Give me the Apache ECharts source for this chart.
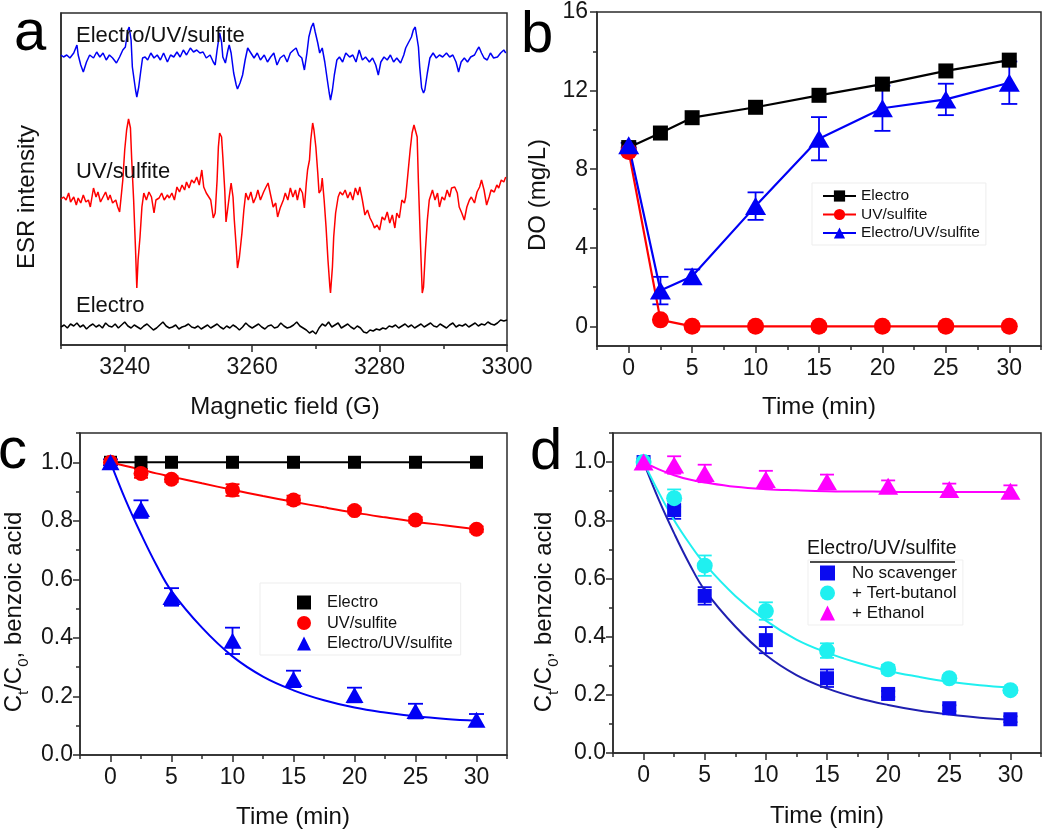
<!DOCTYPE html>
<html><head><meta charset="utf-8">
<script src="https://cdn.jsdelivr.net/npm/echarts@6/dist/echarts.min.js"></script>
<style>html,body{margin:0;padding:0;background:#fff}#c{width:1050px;height:830px}</style>
</head><body><div id="c"></div>
<script>
// ================= Panel a : ESR spectra  [field (G), intensity (a.u.)] =================
const esrBlue = [[3230.0,290],[3230.4,288],[3230.9,290],[3231.4,287],[3232.0,292],[3232.5,300],[3232.7,290],[3233.1,280],[3233.5,273],[3234.0,283],[3234.5,290],[3235.1,287],[3235.6,293],[3236.1,288],[3236.6,292],[3237.1,285],[3237.6,290],[3238.1,287],[3238.7,282],[3239.2,288],[3239.7,295],[3240.1,298],[3240.5,315],[3240.7,318],[3241.0,305],[3241.2,278],[3241.7,255],[3241.9,248],[3242.2,258],[3242.5,273],[3242.8,287],[3243.2,288],[3243.6,285],[3244.1,292],[3244.6,287],[3245.1,290],[3245.6,285],[3246.1,292],[3246.7,283],[3247.2,290],[3247.7,288],[3248.2,293],[3248.7,288],[3249.2,295],[3249.7,290],[3250.3,297],[3250.8,293],[3251.3,295],[3251.8,292],[3252.3,293],[3252.8,287],[3253.4,290],[3253.9,283],[3254.2,280],[3254.5,295],[3254.9,312],[3255.2,303],[3255.4,288],[3255.8,282],[3256.2,295],[3256.4,300],[3256.7,292],[3257.1,272],[3257.5,260],[3257.7,256],[3258.1,262],[3258.5,270],[3258.9,285],[3259.3,297],[3259.8,292],[3260.3,287],[3260.8,292],[3261.3,285],[3261.9,290],[3262.4,283],[3262.9,288],[3263.4,292],[3263.9,280],[3264.4,287],[3265.0,290],[3265.5,283],[3266.0,292],[3266.5,295],[3266.9,297],[3267.3,290],[3267.8,287],[3268.2,275],[3268.6,292],[3268.9,308],[3269.3,318],[3269.6,322],[3269.9,313],[3270.3,302],[3270.6,292],[3271.0,297],[3271.4,283],[3271.8,265],[3272.1,252],[3272.3,245],[3272.6,255],[3272.9,270],[3273.3,285],[3273.7,288],[3274.2,283],[3274.7,292],[3275.3,288],[3275.8,290],[3276.3,283],[3276.8,295],[3277.3,285],[3277.8,288],[3278.4,283],[3278.9,287],[3279.4,280],[3279.8,270],[3280.2,283],[3280.7,288],[3281.2,285],[3281.7,290],[3282.2,283],[3282.7,287],[3283.3,282],[3283.8,290],[3284.1,297],[3284.5,302],[3285.0,308],[3285.3,315],[3285.6,318],[3285.8,310],[3286.1,298],[3286.3,278],[3286.6,257],[3286.9,252],[3287.1,255],[3287.5,272],[3287.9,287],[3288.4,292],[3288.9,287],[3289.4,290],[3289.9,288],[3290.5,292],[3291.0,288],[3291.5,290],[3292.0,283],[3292.4,273],[3292.8,283],[3293.3,287],[3293.8,283],[3294.3,288],[3294.9,290],[3295.3,295],[3295.6,298],[3296.0,292],[3296.4,287],[3296.9,285],[3297.4,292],[3297.9,287],[3298.5,288],[3299.0,292],[3299.5,295],[3299.8,292]];
const esrRed = [[3230.0,146],[3230.4,148],[3230.8,145],[3231.2,152],[3231.5,143],[3232.0,148],[3232.4,140],[3232.7,147],[3233.1,142],[3233.5,150],[3233.9,143],[3234.3,145],[3234.6,138],[3235.1,157],[3235.5,148],[3235.8,153],[3236.2,143],[3236.6,148],[3237.0,153],[3237.4,145],[3237.7,150],[3238.1,142],[3238.6,145],[3238.9,138],[3239.2,133],[3239.5,152],[3239.7,165],[3240.0,195],[3240.3,215],[3240.6,226],[3240.9,217],[3241.1,185],[3241.4,145],[3241.7,95],[3241.9,57],[3242.1,85],[3242.4,108],[3242.7,138],[3243.0,152],[3243.4,145],[3243.8,153],[3244.2,148],[3244.6,132],[3244.9,145],[3245.4,147],[3245.8,152],[3246.2,145],[3246.7,150],[3247.0,147],[3247.4,152],[3247.8,145],[3248.2,158],[3248.6,153],[3249.0,160],[3249.4,155],[3249.7,163],[3250.1,157],[3250.5,165],[3250.9,162],[3251.3,168],[3251.7,160],[3252.1,175],[3252.4,158],[3252.8,152],[3253.2,148],[3253.5,145],[3253.9,127],[3254.2,132],[3254.5,165],[3254.7,198],[3254.9,212],[3255.2,208],[3255.4,188],[3255.7,155],[3255.9,123],[3256.2,125],[3256.4,148],[3256.7,162],[3257.0,148],[3257.2,125],[3257.5,98],[3257.7,77],[3258.0,88],[3258.4,112],[3258.7,135],[3259.0,152],[3259.4,145],[3259.8,153],[3260.2,142],[3260.6,148],[3260.9,155],[3261.3,145],[3261.8,153],[3262.1,157],[3262.5,162],[3262.9,150],[3263.3,138],[3263.7,142],[3264.0,128],[3264.4,137],[3264.9,145],[3265.2,152],[3265.6,145],[3266.0,157],[3266.4,148],[3266.8,155],[3267.1,145],[3267.5,157],[3267.9,152],[3268.2,137],[3268.5,162],[3268.7,175],[3269.0,185],[3269.2,205],[3269.5,222],[3269.7,215],[3270.0,198],[3270.3,172],[3270.5,152],[3270.8,155],[3271.0,167],[3271.3,145],[3271.6,118],[3271.9,85],[3272.2,58],[3272.3,52],[3272.6,78],[3272.8,108],[3273.1,132],[3273.5,148],[3273.8,153],[3274.2,150],[3274.6,155],[3275.0,147],[3275.4,153],[3275.8,145],[3276.2,157],[3276.6,150],[3276.9,158],[3277.3,145],[3277.7,130],[3278.1,135],[3278.5,127],[3278.9,122],[3279.2,117],[3279.6,120],[3280.0,115],[3280.4,128],[3280.8,125],[3281.2,133],[3281.6,122],[3282.0,130],[3282.4,117],[3282.7,132],[3283.1,127],[3283.5,145],[3283.9,142],[3284.1,148],[3284.4,168],[3284.8,195],[3285.1,212],[3285.4,220],[3285.6,221],[3285.9,208],[3286.1,162],[3286.4,105],[3286.7,52],[3286.9,58],[3287.2,95],[3287.5,125],[3287.8,145],[3288.3,155],[3288.7,145],[3289.1,152],[3289.4,138],[3289.8,148],[3290.2,145],[3290.6,155],[3291.0,148],[3291.3,157],[3291.8,158],[3292.2,152],[3292.5,138],[3292.9,132],[3293.3,125],[3293.7,138],[3294.1,145],[3294.4,148],[3294.9,142],[3295.3,153],[3295.7,158],[3296.0,165],[3296.4,155],[3296.8,140],[3297.2,148],[3297.5,155],[3298.0,153],[3298.4,160],[3298.7,157],[3299.1,165],[3299.5,163],[3299.8,168]];
const esrBlack = [[3230,18],[3230.5,20],[3231,17],[3231.5,21],[3232,19],[3232.5,22],[3233,18],[3233.5,20],[3234,16],[3234.5,19],[3235,21],[3235.5,18],[3236,20],[3236.5,17],[3237,22],[3237.5,19],[3238,18],[3238.5,21],[3239,17],[3239.5,20],[3240,23],[3240.5,19],[3241,17],[3241.5,20],[3242,18],[3242.5,16],[3243,19],[3243.5,21],[3244,18],[3244.5,15],[3245,17],[3245.5,20],[3246,23],[3246.5,19],[3247,17],[3247.5,18],[3248,20],[3248.5,16],[3249,18],[3249.5,19],[3250,21],[3250.5,18],[3251,17],[3251.5,19],[3252,16],[3252.5,18],[3253,20],[3253.5,17],[3254,19],[3254.5,21],[3255,18],[3255.5,16],[3256,19],[3256.5,17],[3257,20],[3257.5,18],[3258,15],[3258.5,18],[3259,22],[3259.5,19],[3260,17],[3260.5,19],[3261,21],[3261.5,18],[3262,16],[3262.5,19],[3263,20],[3263.5,17],[3264,18],[3264.5,22],[3265,19],[3265.5,17],[3266,18],[3266.5,20],[3267,23],[3267.5,19],[3268,17],[3268.5,15],[3269,12],[3269.5,14],[3270,11],[3270.5,17],[3271,21],[3271.5,19],[3272,23],[3272.5,18],[3273,20],[3273.5,22],[3274,17],[3274.5,19],[3275,21],[3275.5,18],[3276,16],[3276.5,19],[3277,17],[3277.5,13],[3278,12],[3278.5,15],[3279,14],[3279.5,16],[3280,15],[3280.5,17],[3281,16],[3281.5,19],[3282,18],[3282.5,20],[3283,17],[3283.5,19],[3284,21],[3284.5,18],[3285,20],[3285.5,17],[3286,19],[3286.5,21],[3287,18],[3287.5,20],[3288,22],[3288.5,19],[3289,18],[3289.5,21],[3290,19],[3290.5,17],[3291,20],[3291.5,22],[3292,18],[3292.5,20],[3293,19],[3293.5,21],[3294,18],[3294.5,20],[3295,22],[3295.5,19],[3296,21],[3296.5,20],[3297,23],[3297.5,21],[3298,20],[3298.5,22],[3299,25],[3299.5,24],[3300,25]];
const esrNames = ['Electro/UV/sulfite', 'UV/sulfite', 'Electro'];
const fieldTicks = [3240, 3260, 3280, 3300];
const fieldMinorTicks = [3230, 3250, 3270, 3290];

// ================= Panel b : dissolved oxygen =================
const timeB = [0, 2.5, 5, 10, 15, 20, 25, 30];
const doElectro = [9.1, 9.84, 10.62, 11.15, 11.76, 12.33, 13.0, 13.55];
const doUV = [8.9, 0.33, 0, 0, 0, 0, 0, 0];
const doCombined = [9.22, 1.82, 2.55, 6.12, 9.55, 11.1, 11.55, 12.4];
const doCombinedErr = [0.12, 0.7, 0.35, 0.7, 1.1, 1.15, 0.8, 1.08];
const doTicks = [0, 4, 8, 12, 16];
const doMinorTicks = [2, 6, 10, 14];
const timeTicks = [0, 5, 10, 15, 20, 25, 30];
const timeMinorTicks = [-2.5, 2.5, 7.5, 12.5, 17.5, 22.5, 27.5, 32.5];

// ================= Panel c : benzoic acid decay =================
const timeC = [0, 2.5, 5, 10, 15, 20, 25, 30];
const bzElectro = [1.0, 1.0, 1.0, 1.0, 1.0, 1.0, 1.0, 1.0];
const bzUV = [1.0, 0.962, 0.942, 0.905, 0.871, 0.835, 0.803, 0.771];
const bzUVErr = [0, 0.015, 0.01, 0.02, 0.015, 0.01, 0.01, 0.01];
const bzCombined = [1.0, 0.84, 0.54, 0.39, 0.26, 0.205, 0.15, 0.12];
const bzCombinedErr = [0.01, 0.03, 0.03, 0.045, 0.028, 0.025, 0.025, 0.02];
const fitTime = [0, 1.25, 2.5, 3.75, 5, 7.5, 10, 12.5, 15, 17.5, 20, 22.5, 25, 27.5, 30];
const fitElectroTime = [0, 30];
const fitElectro = [1.0, 1.0];
const fitUV = [1.0, 0.987, 0.975, 0.962, 0.951, 0.928, 0.906, 0.885, 0.865, 0.846, 0.828, 0.812, 0.797, 0.784, 0.771];
const fitCombined = [1.0, 0.87, 0.755, 0.65, 0.56, 0.435, 0.337, 0.268, 0.221, 0.187, 0.162, 0.145, 0.132, 0.123, 0.117];
const ratioTicks = [0, 0.2, 0.4, 0.6, 0.8, 1.0];
const ratioMinorTicks = [0.1, 0.3, 0.5, 0.7, 0.9, 1.1];

// ================= Panel d : scavengers =================
const timeD = [0, 2.5, 5, 10, 15, 20, 25, 30];
const scNone = [1.0, 0.835, 0.54, 0.388, 0.257, 0.203, 0.154, 0.116];
const scNoneErr = [0.01, 0.03, 0.03, 0.045, 0.03, 0.01, 0.01, 0.01];
const scTBA = [1.0, 0.876, 0.644, 0.488, 0.352, 0.288, 0.257, 0.216];
const scTBAErr = [0.01, 0.03, 0.035, 0.03, 0.025, 0.015, 0.01, 0.01];
const scEtOH = [1.0, 0.99, 0.961, 0.94, 0.932, 0.917, 0.906, 0.90];
const scEtOHErr = [0.01, 0.03, 0.03, 0.03, 0.025, 0.02, 0.02, 0.02];
const fitNone = [1.0, 0.87, 0.755, 0.65, 0.56, 0.435, 0.337, 0.268, 0.222, 0.189, 0.165, 0.146, 0.132, 0.121, 0.114];
const fitTBA = [1.0, 0.895, 0.80, 0.72, 0.65, 0.54, 0.455, 0.39, 0.345, 0.31, 0.282, 0.262, 0.245, 0.233, 0.225];
const fitEtOH = [1.0, 0.975, 0.955, 0.94, 0.93, 0.915, 0.907, 0.903, 0.900, 0.899, 0.898, 0.897, 0.897, 0.897, 0.897];
const scNames = ['No scavenger', '+ Tert-butanol', '+ Ethanol'];
const scTitle = 'Electro/UV/sulfite';

// ================= helpers =================
const FONT = '"Liberation Sans", Arial, sans-serif';
const AX = '#2b2b2b';
const pairs = (xs, ys) => xs.map((x, i) => [x, ys[i]]);
const triples = (xs, ys, es) => xs.map((x, i) => [x, ys[i], es[i]]);

function axisPair(dim, g, min, max, major, minor, o) {
  o = o || {};
  const pos = dim === 'x' ? 'bottom' : 'left';
  const main = {
    type: 'value', gridIndex: g, min: min, max: max, position: pos,
    axisLine: { show: true, onZero: false, lineStyle: { color: AX, width: 1.5 } },
    axisTick: major.length ? { show: true, customValues: major, length: 7, lineStyle: { color: AX, width: 1.5 } } : { show: false },
    axisLabel: (o.labels === false) ? { show: false } : {
      show: true, customValues: major, fontSize: 23, color: '#161616', fontFamily: FONT,
      margin: o.margin, formatter: o.fmt || (v => String(v))
    },
    splitLine: { show: false }
  };
  const mn = {
    type: 'value', gridIndex: g, min: min, max: max, position: pos,
    axisLine: { show: false, onZero: false },
    axisTick: minor.length ? { show: true, customValues: minor, length: 4, lineStyle: { color: AX, width: 1.5 } } : { show: false },
    axisLabel: { show: false }, splitLine: { show: false }
  };
  return [main, mn];
}

function errSeries(id, xs, ys, es, color, cap, xi, yi) {
  return {
    type: 'custom', name: id, xAxisIndex: xi, yAxisIndex: yi, silent: true, z: 2,
    data: triples(xs, ys, es),
    renderItem: function (params, api) {
      const x = api.value(0), y = api.value(1), e = api.value(2);
      if (!e) return null;
      const p1 = api.coord([x, y + e]), p2 = api.coord([x, y - e]);
      const h = cap / 2, st = { stroke: color, lineWidth: 1.8 };
      return { type: 'group', children: [
        { type: 'line', shape: { x1: p1[0], y1: p1[1], x2: p2[0], y2: p2[1] }, style: st },
        { type: 'line', shape: { x1: p1[0] - h, y1: p1[1], x2: p1[0] + h, y2: p1[1] }, style: st },
        { type: 'line', shape: { x1: p2[0] - h, y1: p2[1], x2: p2[0] + h, y2: p2[1] }, style: st }
      ] };
    }
  };
}

const grids = [
  { left: 61, top: 13, width: 446, height: 332 },
  { left: 597, top: 12, width: 444, height: 334 },
  { left: 80, top: 433, width: 427, height: 322 },
  { left: 613, top: 433, width: 428, height: 320 }
].map(g => Object.assign({ show: true, borderColor: AX, borderWidth: 1.5, backgroundColor: 'transparent' }, g));

const fmt1 = v => v.toFixed(1);
const xAxes = [].concat(
  axisPair('x', 0, 3230, 3300, fieldTicks, fieldMinorTicks, { margin: 11 }),
  axisPair('x', 1, -2.5, 32.5, timeTicks, timeMinorTicks, { margin: 11 }),
  axisPair('x', 2, -2.5, 32.5, timeTicks, timeMinorTicks, { margin: 11 }),
  axisPair('x', 3, -2.5, 32.5, timeTicks, timeMinorTicks, { margin: 11 })
);
const yAxes = [].concat(
  axisPair('y', 0, 0, 332, [], [], { labels: false }),
  axisPair('y', 1, -1, 16, doTicks, doMinorTicks, { margin: 9 }),
  axisPair('y', 2, 0, 1.1, ratioTicks, ratioMinorTicks, { margin: 7, fmt: fmt1 }),
  axisPair('y', 3, 0, 1.1, ratioTicks, ratioMinorTicks, { margin: 7, fmt: fmt1 })
);

const BLUE = '#0000f5', RED = '#ff0000', BLACK = '#000000';
const CYAN = '#1ff0f0', MAG = '#ff00ff', NAVY = '#1f1fb0', SQBLUE = '#0a0af0';

function esrLine(name, data, color) {
  return { type: 'line', name: name, xAxisIndex: 0, yAxisIndex: 0, data: data, showSymbol: false,
    lineStyle: { color: color, width: 1.5 }, itemStyle: { color: color }, silent: true };
}
function markLine(name, xs, ys, color, sym, size, xi, yi) {
  return { type: 'line', name: name, xAxisIndex: xi, yAxisIndex: yi, data: pairs(xs, ys),
    symbol: sym, symbolSize: size, showSymbol: true, z: 3,
    lineStyle: { color: color, width: 2.2 }, itemStyle: { color: color } };
}
function scat(name, xs, ys, color, sym, size, xi, yi) {
  return { type: 'scatter', name: name, xAxisIndex: xi, yAxisIndex: yi, data: pairs(xs, ys),
    symbol: sym, symbolSize: size, z: 4, itemStyle: { color: color, opacity: 1 } };
}
function fitLine(name, xs, ys, color, xi, yi) {
  return { type: 'line', name: name, xAxisIndex: xi, yAxisIndex: yi, data: pairs(xs, ys),
    smooth: 0.4, showSymbol: false, z: 3, lineStyle: { color: color, width: 2 }, silent: true };
}

const series = [
  // a
  esrLine('esr-blue', esrBlue, BLUE),
  esrLine('esr-red', esrRed, RED),
  esrLine('esr-black', esrBlack, BLACK),
  // b
  markLine('b:Electro', timeB, doElectro, BLACK, 'rect', 15, 2, 2),
  markLine('b:UV/sulfite', timeB, doUV, RED, 'circle', 17, 2, 2),
  errSeries('b-err-comb', timeB, doCombined, doCombinedErr, BLUE, 16, 2, 2),
  markLine('b:Electro/UV/sulfite', timeB, doCombined, BLUE, 'triangle', [21, 18], 2, 2),
  // c
  fitLine('c-fit-e', fitElectroTime, fitElectro, BLACK, 4, 4),
  fitLine('c-fit-uv', fitTime, fitUV, RED, 4, 4),
  fitLine('c-fit-comb', fitTime, fitCombined, BLUE, 4, 4),
  errSeries('c-err-uv', timeC, bzUV, bzUVErr, RED, 14, 4, 4),
  errSeries('c-err-comb', timeC, bzCombined, bzCombinedErr, BLUE, 15, 4, 4),
  scat('c:Electro', timeC, bzElectro, BLACK, 'rect', 13, 4, 4),
  scat('c:UV/sulfite', timeC, bzUV, RED, 'circle', 15, 4, 4),
  scat('c:Electro/UV/sulfite', timeC, bzCombined, BLUE, 'triangle', [18, 16], 4, 4),
  // d
  fitLine('d-fit-none', fitTime, fitNone, NAVY, 6, 6),
  fitLine('d-fit-tba', fitTime, fitTBA, CYAN, 6, 6),
  fitLine('d-fit-etoh', fitTime, fitEtOH, MAG, 6, 6),
  errSeries('d-err-none', timeD, scNone, scNoneErr, SQBLUE, 14, 6, 6),
  errSeries('d-err-tba', timeD, scTBA, scTBAErr, CYAN, 14, 6, 6),
  errSeries('d-err-etoh', timeD, scEtOH, scEtOHErr, MAG, 14, 6, 6),
  scat('d:' + scNames[0], timeD, scNone, SQBLUE, 'rect', 14, 6, 6),
  scat('d:' + scNames[1], timeD, scTBA, CYAN, 'circle', 16, 6, 6),
  scat('d:' + scNames[2], timeD, scEtOH, MAG, 'triangle', [20, 17], 6, 6)
];

const strip = n => n.slice(2);
const legends = [
  { orient: 'vertical', left: 812, top: 183, padding: [5, 6, 4, 10], itemGap: 2.5,
    itemWidth: 33, itemHeight: 14, borderColor: '#ededed', borderWidth: 1,
    data: ['b:Electro', 'b:UV/sulfite', 'b:Electro/UV/sulfite'], formatter: strip,
    textStyle: { fontSize: 15.5, lineHeight: 16, color: '#111', fontFamily: FONT } },
  { orient: 'vertical', left: 260, top: 583, padding: [11, 8, 3, 37], itemGap: 3.5,
    itemWidth: 14, itemHeight: 14, borderColor: '#ededed', borderWidth: 1,
    data: ['c:Electro', 'c:UV/sulfite', 'c:Electro/UV/sulfite'], formatter: strip,
    textStyle: { fontSize: 16.4, lineHeight: 17, color: '#111', fontFamily: FONT, padding: [0, 0, 0, 11] } },
  { orient: 'vertical', left: 808, top: 560, padding: [4, 6, 3, 12], itemGap: 2,
    itemWidth: 15, itemHeight: 15, borderColor: '#efefef', borderWidth: 1,
    data: scNames.map(n => 'd:' + n), formatter: strip,
    textStyle: { fontSize: 17, lineHeight: 18, color: '#111', fontFamily: FONT, padding: [0, 0, 0, 12] } }
];

function txt(s, x, y, size, opt) {
  opt = opt || {};
  return { type: 'text', x: x, y: y, rotation: opt.rot || 0, z: 100, silent: true,
    style: Object.assign({ text: s, fontSize: size, fontFamily: FONT, fill: '#111',
      align: opt.align || 'center', verticalAlign: 'middle' }, opt.style || {}) };
}
const subRich = {
  a: { fontSize: 24, fontFamily: FONT, fill: '#111', color: '#111', lineHeight: 34 },
  s: { fontSize: 15, fontFamily: FONT, fill: '#111', color: '#111', lineHeight: 15, verticalAlign: 'bottom' }
};
const ratioName = '{a|C}{s|t}{a|/C}{s|0}{a|, benzoic acid}';

const graphic = [
  txt('a', 14, 34, 58, { align: 'left', style: { fill: '#000' } }),
  txt('b', 521, 36, 58, { align: 'left', style: { fill: '#000' } }),
  txt('c', -2, 452, 58, { align: 'left', style: { fill: '#000' } }),
  txt('d', 530, 453, 58, { align: 'left', style: { fill: '#000' } }),
  txt(esrNames[0], 76, 36, 22, { align: 'left' }),
  txt(esrNames[1], 76, 172, 22, { align: 'left' }),
  txt(esrNames[2], 76, 306, 22, { align: 'left' }),
  txt('Magnetic field (G)', 285, 407, 24),
  txt('Time (min)', 819, 407, 24),
  txt('Time (min)', 293, 817, 24),
  txt('Time (min)', 827, 816, 24),
  txt('ESR intensity', 27, 197, 24, { rot: Math.PI / 2 }),
  txt('DO (mg/L)', 538, 195, 24, { rot: Math.PI / 2 }),
  txt(ratioName, 14, 612, 24, { rot: Math.PI / 2, style: { rich: subRich } }),
  txt(ratioName, 544, 612, 24, { rot: Math.PI / 2, style: { rich: subRich } }),
  txt(scTitle, 807, 549, 19.5, { align: 'left' }),
  { type: 'line', z: 100, silent: true, shape: { x1: 810, y1: 562, x2: 955, y2: 562 }, style: { stroke: '#111', lineWidth: 1.5 } }
];

const chart = echarts.init(document.getElementById('c'), null, { renderer: 'canvas' });
chart.setOption({
  animation: false,
  backgroundColor: '#ffffff',
  textStyle: { fontFamily: FONT },
  grid: grids,
  xAxis: xAxes,
  yAxis: yAxes,
  legend: legends,
  series: series,
  graphic: graphic
});
</script></body></html>
